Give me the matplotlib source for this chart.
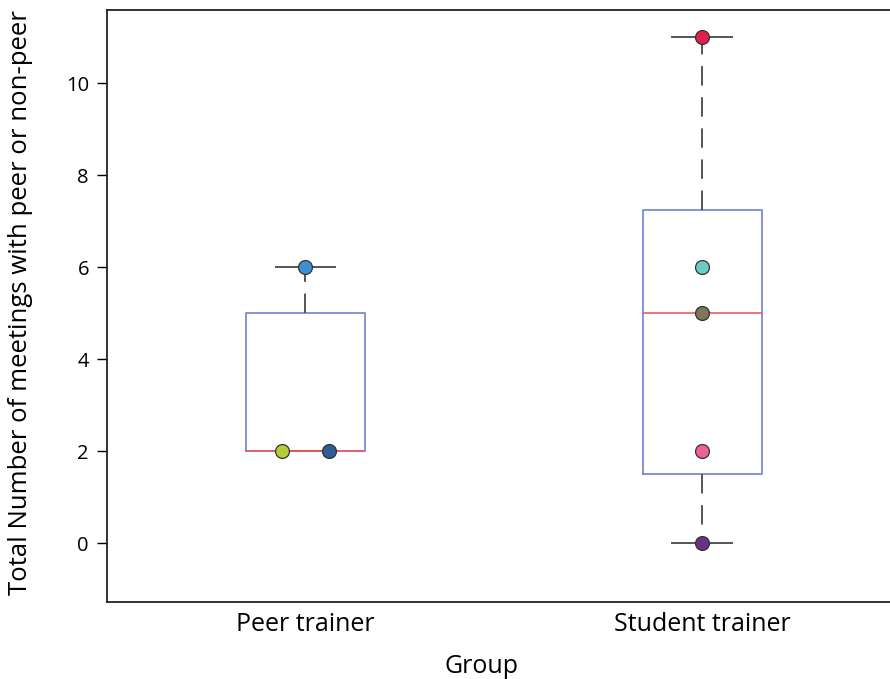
import matplotlib
matplotlib.use("Agg")
import matplotlib.pyplot as plt

plt.rcParams['font.family'] = ['Open Sans', 'DejaVu Sans']

# Data
groups = ['Peer trainer', 'Student trainer']
q1 = [2, 1.5]
medians = [2, 5]
q3 = [5, 7.25]
whis_low = [2, 0]
whis_high = [6, 11]

# individual points per group
peer_vals = [2, 2, 6]
peer_offsets = [-0.06, 0.06, 0.0]
peer_colors = ['#b5cc34', '#2d5f94', '#3d8fd2']

student_vals = [11, 6, 5, 2, 0]
student_colors = ['#e3204c', '#6ccbc6', '#7b7858', '#ea6298', '#6a3282']

fig = plt.figure(figsize=(8.9, 6.79), dpi=100)
ax = fig.add_axes([107 / 890, 77 / 679, 1.012 - 107 / 890, 592 / 679])

stats = []
for i, g in enumerate(groups):
    stats.append(dict(label=g, q1=q1[i], med=medians[i], q3=q3[i],
                      whislo=whis_low[i], whishi=whis_high[i], fliers=[]))

ax.bxp(stats, positions=[1, 2], widths=0.3, showfliers=False,
       boxprops=dict(color='#7082cc', linewidth=1.2),
       medianprops=dict(color='#ee5c5c', linewidth=1.2, zorder=4),
       whiskerprops=dict(color='#555555', linewidth=1.4, linestyle=(0, (10, 6))),
       capprops=dict(color='#555555', linewidth=1.4),
       capwidths=0.15)

# Points
for v, off, c in zip(peer_vals, peer_offsets, peer_colors):
    ax.plot(1 + off, v, 'o', ms=10, mfc=c, mec='#333333', mew=0.9, zorder=5)
for v, c in zip(student_vals, student_colors):
    ax.plot(2, v, 'o', ms=10, mfc=c, mec='#333333', mew=0.9, zorder=5)

ax.set_xlim(0.5, 2.5)
ax.set_ylim(-1.28, 11.59)
ax.set_yticks([0, 2, 4, 6, 8, 10])
ax.set_xticks([1, 2])
ax.set_xticklabels(groups, fontsize=18)
ax.tick_params(axis='x', length=0, pad=7)
ax.tick_params(axis='y', direction='out', length=7, width=1, labelsize=14.5, pad=6)

for s in ['left', 'top', 'bottom']:
    ax.spines[s].set_linewidth(1.3)
    ax.spines[s].set_color('#222222')
ax.spines['right'].set_visible(False)

ax.set_xlabel('Group', fontsize=18)
ax.set_ylabel('Total Number of meetings with peer or non-peer', fontsize=18.5)
# place axis labels like the reference
ax.xaxis.set_label_coords((482 - 107) / (1.012 * 890 - 107), -0.088)
ax.yaxis.set_label_coords(-0.093, 0.505)

plt.savefig('out.png', dpi=100)
